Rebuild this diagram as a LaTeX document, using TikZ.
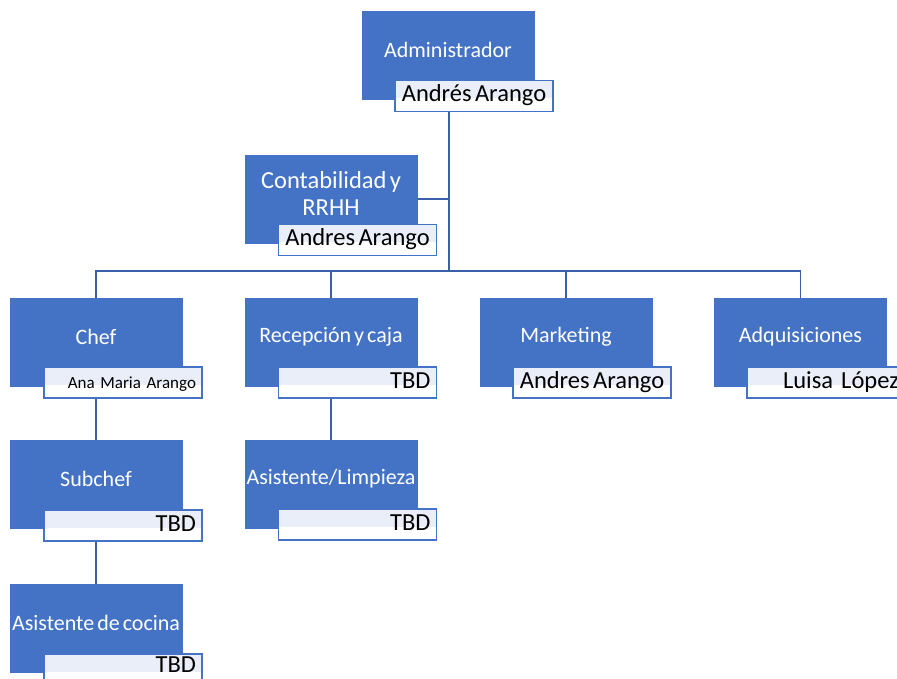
\documentclass[tikz,border=0pt]{standalone}
\usepackage{fontspec}
\setmainfont[WordSpace=0.6]{Carlito}
\usetikzlibrary{positioning,backgrounds}
\definecolor{unitblue}{RGB}{68,114,196}
\definecolor{linkblue}{RGB}{58,96,170}
\definecolor{nametint}{RGB}{233,238,248}
\tikzset{
  unit/.style={fill=unitblue,draw=unitblue,minimum width=172pt,
    minimum height=88pt,inner sep=0pt},
  unittitle/.style={text=white,font=\fontsize{22}{26}\selectfont,
    align=center,inner sep=0pt},
  holder/.style={draw=unitblue,line width=1.1pt,fill=white,
    minimum width=158pt,minimum height=31pt,inner sep=0pt,
    text height=21pt,text depth=10pt,
    path picture={\fill[nametint] (path picture bounding box.north west)
      rectangle ([yshift=13pt]path picture bounding box.south east);},
    font=\fontsize{24.5}{27}\selectfont,text=black},
  holderright/.style={holder,text width=146pt,align=right},
  link/.style={draw=linkblue,line width=1.6pt}
}

\begin{document}
\begin{tikzpicture}[x=1pt,y=-1pt]
  \useasboundingbox (0,0) rectangle (897,679);
  \clip (0,0) rectangle (897,679);

  % top
  \node[unit] (admin) at (448,55.5) {};
  \node[unittitle] (admin-title) at ([yshift=6pt]admin.center) {Administrador};
  \node[holder] (admin-name) at (474,96) {Andrés Arango};

  \node[unit] (conta) at (331,199) {};
  \node[unittitle,font=\fontsize{24.5}{27}\selectfont] (conta-title)
    at ([yshift=6pt]conta.center) {Contabilidad y\\RRHH};
  \node[holder] (conta-name) at (357.5,240) {Andres Arango};

  % second row
  \node[unit] (chef) at (96,342.5) {};
  \node[unittitle] (chef-title) at ([yshift=6pt]chef.center) {Chef};
  \node[holderright,font=\fontsize{17}{20}\selectfont] (chef-name)
    at (123,382.5) {\mbox{Ana Maria Arango}};

  \node[unit] (recep) at (331,342.5) {};
  \node[unittitle] (recep-title) at ([yshift=6pt]recep.center) {Recepción y caja};
  \node[holderright] (recep-name) at (357.5,382.5) {TBD};

  \node[unit] (mkt) at (566,342.5) {};
  \node[unittitle] (mkt-title) at ([yshift=6pt]mkt.center) {Marketing};
  \node[holder] (mkt-name) at (592,382.5) {Andres Arango};

  \node[unit] (adq) at (800.5,342.5) {};
  \node[unittitle] (adq-title) at ([yshift=6pt]adq.center) {Adquisiciones};
  \node[holderright] (adq-name) at (826,382.5) {\mbox{Luisa López}};

  % lower rows
  \node[unit] (sub) at (96,484.5) {};
  \node[unittitle] (sub-title) at ([yshift=6pt]sub.center) {Subchef};
  \node[holderright] (sub-name) at (123,525.5) {TBD};

  \node[unit] (limp) at (331,484.5) {};
  \node[unittitle] (limp-title) at ([yshift=6pt]limp.center) {Asistente/Limpieza};
  \node[holderright] (limp-name) at (357.5,524.5) {TBD};

  \node[unit] (coc) at (96,628.5) {};
  \node[unittitle] (coc-title) at ([yshift=6pt]coc.center) {Asistente de cocina};
  \node[holderright,text height=18pt,text depth=13pt] (coc-name)
    at (123,669.5) {TBD};

  % connectors
  \coordinate (bus) at (449,271);
  \begin{scope}[on background layer]
    \draw[link] (admin.south -| bus) -- (bus);
    \draw[link] (conta.east) -- (conta.east -| bus);
    \draw[link] (chef.north) |- (bus) -| (adq.north);
    \draw[link] (recep.north) -- (recep.north |- bus);
    \draw[link] (mkt.north) -- (mkt.north |- bus);
    \draw[link] (chef.south) -- (sub.north);
    \draw[link] (sub.south) -- (coc.north);
    \draw[link] (recep.south) -- (limp.north);
  \end{scope}
\end{tikzpicture}
\end{document}
